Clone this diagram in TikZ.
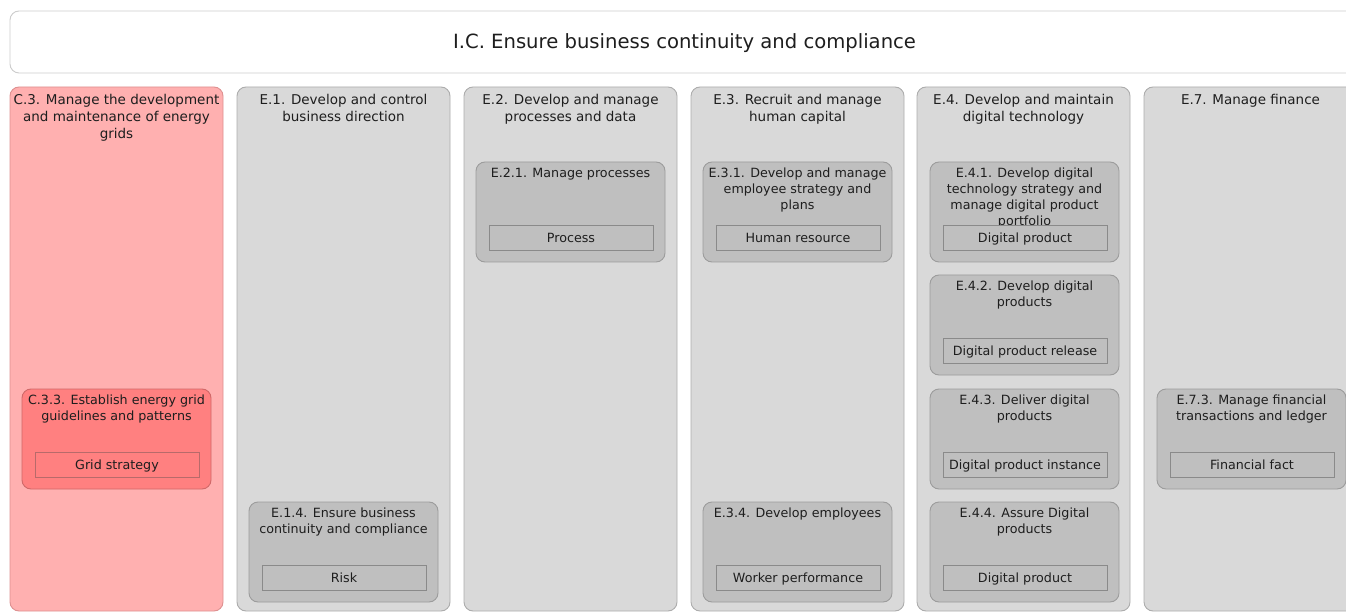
\documentclass[tikz,border=0pt]{standalone}
\usepackage{fontspec}
\setmainfont{DejaVu Sans}
\definecolor{txt}{HTML}{1E1E1E}
\definecolor{colfill}{HTML}{D9D9D9}
\definecolor{colline}{HTML}{ACACAC}
\definecolor{subfill}{HTML}{BFBFBF}
\definecolor{subline}{HTML}{9C9C9C}
\definecolor{entline}{HTML}{8A8A8A}
\definecolor{rcolfill}{HTML}{FFB0B0}
\definecolor{rcolline}{HTML}{DE9090}
\definecolor{rsubfill}{HTML}{FF8080}
\definecolor{rsubline}{HTML}{D06868}
\definecolor{rentline}{HTML}{B86A6A}
\definecolor{topline}{HTML}{CCCCCC}
\tikzset{
  base/.style={inner sep=0pt, outer sep=0pt, text=txt},
  topbox/.style={base, draw=topline, fill=white, rounded corners=9pt, line width=0.9pt, minimum width=1400pt, minimum height=62pt},
  greycol/.style={base, draw=colline, fill=colfill, rounded corners=9pt, line width=0.9pt, minimum width=213pt, minimum height=524pt},
  redcol/.style={base, draw=rcolline, fill=rcolfill, rounded corners=9pt, line width=0.9pt, minimum width=213pt, minimum height=524pt},
  greysub/.style={base, draw=subline, fill=subfill, rounded corners=9pt, line width=0.9pt, minimum width=189pt, minimum height=100pt},
  redsub/.style={base, draw=rsubline, fill=rsubfill, rounded corners=9pt, line width=0.9pt, minimum width=189pt, minimum height=100pt},
  entbase/.style={base, line width=0.9pt, minimum width=164pt, minimum height=25pt, text height=10pt, text depth=0pt, font=\fontsize{12.7}{16}\selectfont},
  greyent/.style={entbase, draw=entline, fill=subfill},
  redent/.style={entbase, draw=rentline, fill=rsubfill},
  coltitle/.style={base, align=center, anchor=north, font=\fontsize{13.5}{17}\selectfont},
  subtitle/.style={base, align=center, anchor=north, font=\fontsize{12.7}{16}\selectfont},
  maintitle/.style={base, font=\fontsize{19.6}{24}\selectfont},
}
\newcommand\mkcolumn[5]{%
  \node[#4col, anchor=north west] (#1) at (#2,#3) {};
  \node[coltitle] (#1-t) at ([yshift=-7pt]#1.north) {#5};
}
\newcommand\mksub[6]{%
  \node[#4sub, anchor=north west] (#1) at (#2,#3) {};
  \node[subtitle] (#1-t) at ([yshift=-5.7pt]#1.north) {#5};
  \node[#4ent, anchor=north west] (#1-e) at ([xshift=13pt,yshift=-63pt]#1.north west) {#6};
}
\begin{document}
\begin{tikzpicture}[x=1pt,y=-1pt]
\useasboundingbox (0,0) rectangle (1346,612);
\clip (0,0) rectangle (1346,612);
\node[topbox, anchor=north west] (top) at (10,11) {};
\node[maintitle, anchor=base] (top-t) at (684.5,48.8) {I.C. Ensure business continuity and compliance};

\mkcolumn{c3}{10}{87}{red}{C.3. Manage the development\\and maintenance of energy\\grids}
\mkcolumn{e1}{237}{87}{grey}{E.1. Develop and control\\business direction}
\mkcolumn{e2}{464}{87}{grey}{E.2. Develop and manage\\processes and data}
\mkcolumn{e3}{691}{87}{grey}{E.3. Recruit and manage\\human capital}
\mkcolumn{e4}{917}{87}{grey}{E.4. Develop and maintain\\digital technology}
\mkcolumn{e7}{1144}{87}{grey}{E.7. Manage finance}

\mksub{c33}{22}{389}{red}{C.3.3. Establish energy grid\\guidelines and patterns}{Grid strategy}
\mksub{e14}{249}{502}{grey}{E.1.4. Ensure business\\continuity and compliance}{Risk}
\mksub{e21}{476}{162}{grey}{E.2.1. Manage processes}{Process}
\mksub{e31}{703}{162}{grey}{E.3.1. Develop and manage\\employee strategy and\\plans}{Human resource}
\mksub{e34}{703}{502}{grey}{E.3.4. Develop employees}{Worker performance}
\mksub{e41}{930}{162}{grey}{E.4.1. Develop digital\\technology strategy and\\manage digital product\\portfolio}{Digital product}
\mksub{e42}{930}{275}{grey}{E.4.2. Develop digital\\products}{Digital product release}
\mksub{e43}{930}{389}{grey}{E.4.3. Deliver digital\\products}{Digital product instance}
\mksub{e44}{930}{502}{grey}{E.4.4. Assure Digital\\products}{Digital product}
\mksub{e73}{1157}{389}{grey}{E.7.3. Manage financial\\transactions and ledger}{Financial fact}
\end{tikzpicture}
\end{document}
